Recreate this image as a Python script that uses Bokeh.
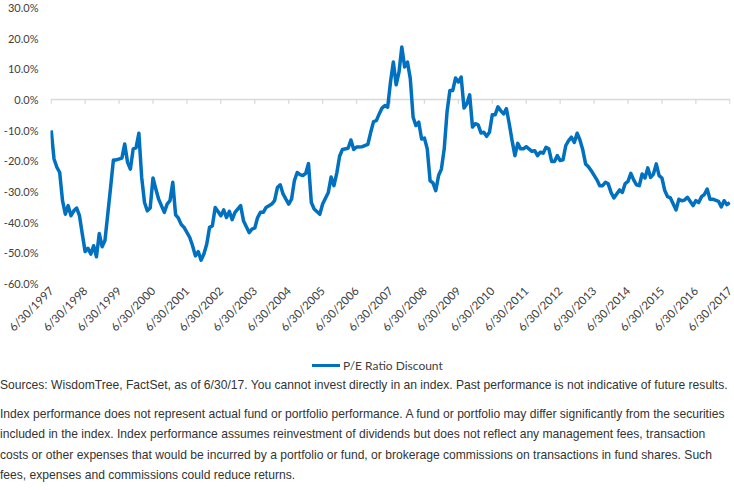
from bokeh.plotting import figure
from bokeh.models import Range1d, FixedTicker, Span, Div
from bokeh.layouts import column
from bokeh.embed import file_html
from bokeh.resources import INLINE

# Months elapsed since June 1997 and the P/E ratio discount (%) at that month
month_offset = [
    0, 1, 2, 3, 4, 5, 6, 7, 8, 9, 10, 11, 12, 13, 14, 15, 16, 17, 18, 19,
    20, 21, 22, 23, 25, 26, 27, 28, 29, 30, 31, 32, 33, 34, 35, 36, 37, 38,
    40, 41, 42, 43, 44, 45, 46, 47, 49, 50, 51, 52, 53, 54, 55, 56, 57, 58,
    59, 60, 61, 62, 63, 64, 65, 67, 68, 70, 71, 72, 73, 74, 75, 76, 78, 79,
    80, 81, 82, 83, 84, 85, 86, 87, 88, 89, 90, 91, 92, 93, 95, 96, 98, 99,
    100, 101, 102, 103, 105, 106, 107, 108, 110, 112, 113, 114, 115, 116,
    117, 118, 119, 120, 121, 122, 123, 124, 125, 126, 127, 128, 129, 130,
    131, 132, 133, 134, 135, 136, 137, 138, 139, 140, 141, 142, 143, 144,
    145, 146, 147, 148, 149, 150, 151, 152, 153, 154, 155, 156, 157, 158,
    159, 160, 161, 162, 163, 164, 165, 166, 167, 168, 170, 171, 172, 173,
    174, 175, 176, 177, 178, 179, 180, 181, 182, 183, 184, 185, 186, 187,
    188, 189, 190, 191, 193, 194, 195, 196, 197, 198, 199, 200, 201, 202,
    203, 204, 205, 206, 207, 208, 209, 210, 211, 212, 213, 214, 215, 216,
    217, 218, 219, 220, 221, 222, 223, 224, 225, 227, 228, 229, 230, 231,
    232, 233, 234, 236, 237, 238, 239, 240,
]
pe_discount = [
    -10.1, -19.4, -22.1, -23.8, -33.0, -37.4, -34.6, -37.9, -36.3, -35.4,
    -37.9, -43.9, -49.6, -48.5, -50.4, -47.7, -51.3, -43.7, -48.0, -46.0,
    -37.4, -28.7, -19.7, -19.7, -19.1, -14.5, -20.5, -22.7, -16.1, -15.8,
    -11.0, -25.4, -33.6, -36.3, -35.4, -25.6, -29.2, -32.5,
    -36.8, -34.1, -33.0, -27.0, -37.6, -38.7, -40.8, -41.7, -45.0, -47.7,
    -51.0, -49.6, -52.4, -50.4, -47.2, -41.7, -41.2, -35.2,
    -36.5, -37.9, -36.0, -38.5, -36.5, -39.2, -36.8, -34.6, -39.5, -43.4,
    -42.3, -41.9, -38.5, -36.8, -36.8, -35.2, -34.1, -33.0,
    -28.7, -27.8, -30.8, -32.5, -34.1, -32.5, -26.5, -23.8, -24.5, -24.8,
    -24.1, -20.9, -33.6, -35.7, -37.4, -34.1, -30.3, -25.3,
    -28.1, -24.0, -18.5, -16.3, -15.9, -13.2, -16.3, -15.5, -15.4, -14.6,
    -10.7, -7.2, -6.9, -4.7,
    -2.8, -2.0, -2.5, 5.7, 12.2, 4.8, 8.9, 17.1, 10.6, 12.2, 6.8, -5.8,
    -8.5, -7.4,
    -12.9, -12.6, -16.1, -26.5, -27.2, -29.7, -24.8, -22.7, -16.1, -4.0,
    2.9, 2.9, 7.0, 5.7,
    7.3, -2.8, -1.4, 1.5, -9.0, -7.9, -8.3, -10.9, -10.7, -12.0, -10.7,
    -5.0, -5.0, -2.4,
    -3.7, -4.7, -3.0, -7.9, -13.4, -18.3, -14.3, -16.1, -16.1, -15.4,
    -16.9, -16.7, -18.3, -17.2,
    -17.5, -15.6, -16.1, -20.2, -20.2, -18.3, -19.9, -19.7, -15.0, -13.4,
    -12.3, -14.0, -11.0, -13.2,
    -16.4, -21.0, -21.9, -23.2, -26.2, -28.1, -28.1, -27.0, -27.5, -30.3,
    -32.1, -30.8, -29.5, -30.3,
    -27.4, -26.7, -24.1, -26.2, -27.8, -28.1, -24.3, -25.6, -22.3, -25.4,
    -24.3, -21.0, -24.8, -25.6,
    -29.7, -31.7, -32.1, -34.1, -36.0, -32.5, -33.0, -32.8, -31.9, -34.6,
    -33.0, -33.6, -31.7, -31.0,
    -29.2, -32.5, -32.5, -33.2, -35.0, -33.0, -34.3, -33.6,
]

# Category axis: one labelled tick per year-end of June
tick_months = [0, 12, 24, 36, 48, 60, 72, 84, 96, 108, 120,
               132, 144, 156, 168, 180, 192, 204, 216, 228, 240]
tick_labels = ["6/30/1997", "6/30/1998", "6/30/1999", "6/30/2000",
               "6/30/2001", "6/30/2002", "6/30/2003", "6/30/2004",
               "6/30/2005", "6/30/2006", "6/30/2007", "6/30/2008",
               "6/30/2009", "6/30/2010", "6/30/2011", "6/30/2012",
               "6/30/2013", "6/30/2014", "6/30/2015", "6/30/2016",
               "6/30/2017"]
y_ticks = [-60, -50, -40, -30, -20, -10, 0, 10, 20, 30]
y_tick_labels = ["-60.0%", "-50.0%", "-40.0%", "-30.0%", "-20.0%",
                 "-10.0%", "0.0%", "10.0%", "20.0%", "30.0%"]
series_name = "P/E Ratio Discount"

LINE_BLUE = "#0070C0"
AXIS_GREY = "#D9D9D9"
TEXT = "#404040"
FONT = "Lato"

p = figure(width=734, height=353,
           x_range=Range1d(-0.25, 240.25), y_range=Range1d(-60, 30),
           min_border_left=50, min_border_right=4, min_border_top=7,
           min_border_bottom=70,
           output_backend="svg", toolbar_location=None,
           background_fill_color="white", border_fill_color="white",
           outline_line_color=None)
p.grid.visible = False

# Horizontal baseline at 0% with small downward year ticks
p.add_layout(Span(location=0, dimension="width", line_color=AXIS_GREY,
                  line_width=1.3, level="underlay"))
p.segment(x0=tick_months, y0=[0] * len(tick_months),
          x1=tick_months, y1=[-1.35] * len(tick_months),
          line_color=AXIS_GREY, line_width=1.3, level="underlay")

p.line(month_offset, pe_discount, line_color=LINE_BLUE,
       line_width=3.5, line_join="round")

# Axes
xa = p.xaxis[0]
xa.ticker = FixedTicker(ticks=tick_months)
xa.major_label_overrides = {m: lab for m, lab in zip(tick_months, tick_labels)}
xa.major_label_orientation = 0.785398
xa.axis_line_color = None
xa.major_tick_line_color = None
xa.minor_tick_line_color = None
xa.major_tick_out = 0
xa.major_tick_in = 0
xa.major_label_standoff = 5
xa.major_label_text_font = FONT
xa.major_label_text_font_size = "11.5px"
xa.major_label_text_color = TEXT

ya = p.yaxis[0]
ya.ticker = FixedTicker(ticks=y_ticks)
ya.major_label_overrides = {v: lab for v, lab in zip(y_ticks, y_tick_labels)}
ya.axis_line_color = None
ya.major_tick_line_color = None
ya.minor_tick_line_color = None
ya.major_tick_out = 0
ya.major_tick_in = 0
ya.major_label_standoff = 12
ya.major_label_text_font = FONT
ya.major_label_text_font_size = "11px"
ya.major_label_text_color = TEXT

# Series key below the chart: blue stroke followed by the series name
legend_box = Div(
    width=734, height=22,
    styles={"margin": "0", "padding": "0"},
    text=(
        "<div style=\"display:flex;align-items:center;height:22px;padding-top:3px;"
        "box-sizing:border-box;padding-left:312px;\">"
        f"<span style=\"display:inline-block;width:28px;height:3.5px;background:{LINE_BLUE};\"></span>"
        f"<span style=\"margin-left:3px;font-family:{FONT};font-size:12px;color:{TEXT};\">"
        f"{series_name}</span></div>"
    ),
)

notes = Div(
    width=734,
    styles={"margin": "0", "padding": "0"},
    text=(
        "<div style=\"font-family:'Liberation Sans','Arial',sans-serif;"
        "font-size:12.1px;color:#333333;line-height:20.5px;width:734px;white-space:nowrap;\">"
        "<div style=\"margin-bottom:8px;\">Sources: WisdomTree, FactSet, as of 6/30/17. "
        "You cannot invest directly in an index. Past performance is not indicative "
        "of future results.</div>"
        "<div>Index performance does not represent actual fund or portfolio performance. "
        "A fund or portfolio may differ significantly from the securities<br>"
        "included in the index. Index performance assumes reinvestment of dividends but "
        "does not reflect any management fees, transaction<br>"
        "costs or other expenses that would be incurred by a portfolio or fund, or "
        "brokerage commissions on transactions in fund shares. Such<br>"
        "fees, expenses and commissions could reduce returns.</div></div>"
    ),
)

layout = column(p, legend_box, notes, spacing=0)

with open("out.html", "w") as f:
    f.write(file_html(layout, INLINE))
